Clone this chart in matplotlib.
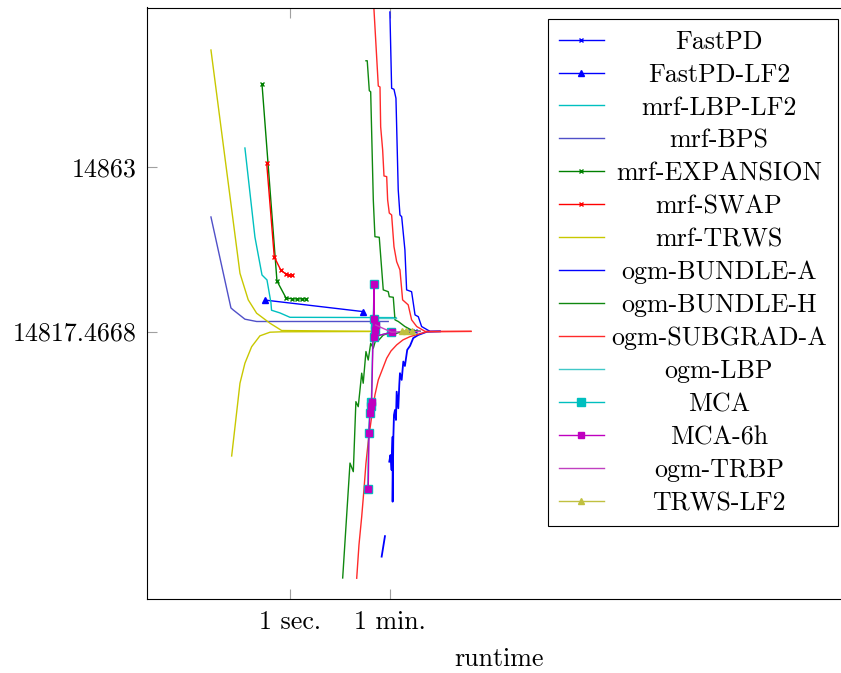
import numpy as np
import matplotlib
matplotlib.use("Agg")
import matplotlib.pyplot as plt
import matplotlib.transforms as mtransforms

plt.rcParams['font.family'] = ['cmr10', 'DejaVu Serif']
plt.rcParams['axes.formatter.use_mathtext'] = True

E_OPT = 14817.4668
nan = np.nan

# runtimes in seconds, energies (upper bounds) and bounds (lower bounds)
fastpd_t = [137, 168]
fastpd_e = [14817.47, 14817.47]

fastpd_lf2_t = [0.359, 19.7]
fastpd_lf2_e = [14818.55, 14818.06]

mrf_lbp_lf2_t = [0.158, 0.238, 0.318, 0.390, 0.459, 0.470, 0.664, 1.0, 76.9]
mrf_lbp_lf2_e = [14889.07, 14825.55, 14820.21, 14819.80, 14818.42, 14818.11, 14818.01, 14817.86, 14817.85]

mrf_bps_t = [0.0393, 0.0891, 0.098, 0.158, 0.255, 56.0]
mrf_bps_e = [14830.97, 14818.20, 14818.12, 14817.80, 14817.73, 14817.73]

mrf_exp_t = [0.318, 0.587, 0.849, 1.085, 1.332, 1.635, 1.927]
mrf_exp_e = [15140.47, 14819.72, 14818.66, 14818.61, 14818.61, 14818.61, 14818.61]

mrf_swap_t = [0.385, 0.526, 0.684, 0.839, 0.960, 1.099]
mrf_swap_e = [14867.67, 14822.17, 14820.68, 14820.30, 14820.21, 14820.21]

mrf_trws_t = [0.0393, 0.129, 0.181, 0.255, 0.441, 0.712, 30.0]
mrf_trws_e = [15532.47, 14820.36, 14818.56, 14818.00, 14817.68, 14817.49, 14817.47]
mrf_trws_lb_t = [0.0918, 0.129, 0.158, 0.208, 0.292, 0.441, 0.712, 30.0]
mrf_trws_lb = [14800.17, 14815.12, 14816.37, 14817.04, 14817.36, 14817.45, 14817.46, 14817.4668]

bundle_a_t = [60.0, 64.4, 70.9, 76.9, 84.4, 90.6, 97.2, 111, 119, 146, 168, 192, 220, 310, 467]
bundle_a_e = [16555.47, 15109.47, 15102.47, 15048.47, 14843.77, 14831.67, 14831.07, 14823.18,
              14819.11, 14819.00, 14817.94, 14817.88, 14817.59, 14817.47, 14817.47]
bundle_a_lb_t = [42.8, 49.0, nan, 58.5, 61.4, 64.4, 67.1, 67.1, 68.9, 70.9, 73.9, 76.9, 79.2,
                 84.6, 88.1, 90.6, 97.2, 104, 111, 122, 137, 156, 190, 271, 467]
bundle_a_lb = [14626.47, 14699.47, nan, 14797.57, 14800.57, 14793.07, 14806.77, 14765.27, 14805.87,
               14811.44, 14812.22, 14810.58, 14814.39, 14812.46, 14814.98, 14815.82, 14815.37,
               14816.45, 14816.23, 14816.93, 14817.07, 14817.30, 14817.38, 14817.46, 14817.47]

bundle_h_t = [22.5, 23.7, 25.8, 27.3, 30.4, 32.5, 38.8, 45.7, 56.1, 58.5, 68.9, 73.9, 84.6, 111, 146, 206]
bundle_h_e = [15373.47, 15373.47, 15093.47, 15086.47, 14838.07, 14825.62, 14825.49, 14819.11,
              14819.00, 14818.72, 14818.69, 14817.78, 14817.73, 14817.59, 14817.50, 14817.47]
bundle_h_lb_t = [8.67, 11.7, 13.4, 14.9, 16.4, 18.9, 20.1, 22.5, 24.7, 27.3, 30.4, 34.9, 38.3,
                 45.7, 56.1, 73.9, 90.6, 206]
bundle_h_lb = [14502.47, 14796.87, 14792.07, 14813.32, 14812.68, 14815.82, 14815.12, 14816.87,
               14816.52, 14817.15, 14816.99, 14817.34, 14817.25, 14817.38, 14817.42, 14817.41,
               14817.45, 14817.47]

subgrad_t = [31.2, 37.3, 40.0, 41.1, 44.6, 47.1, 52.6, 54.7, 58.5, 64.4, 70.9, 79.2, 90.6, 101,
             127, 146, 180, 253, 1663]
subgrad_e = [16682.47, 15125.47, 15118.47, 14935.47, 14885.77, 14854.27, 14853.67, 14838.07,
             14832.37, 14831.67, 14823.72, 14821.57, 14820.68, 14818.56, 14818.33, 14817.78,
             14817.59, 14817.47, 14817.47]
subgrad_lb_t = [15.4, 16.9, 18.9, 20.7, 22.5, 24.9, 28.4, 32.5, 37.3, 52.6, 62.7, 79.2, 102.5,
                137, 271, 1663]
subgrad_lb = [14500.47, 14672.47, 14742.97, 14777.97, 14796.77, 14805.87, 14811.16, 14814.07,
              14815.37, 14816.60, 14816.89, 14817.10, 14817.25, 14817.34, 14817.46, 14817.47]

ogm_lbp_t = [28.8, 76.9]
ogm_lbp_e = [14817.85, 14817.85]

mca_t = [24.3, 25.1, 26.2, 27.3, 28.1, 31.4, 31.4, 33.2, 32.2, 31.4, 64.0]
mca_e = [14778.67, 14807.85, 14811.71, 14812.77, 14813.32, 14819.48, 14817.80, 14817.63,
         14817.50, 14817.34, 14817.45]

mca6h_t = [24.7, 25.5, 26.5, 27.6, 28.4, 31.6, 31.6, 33.5, 32.5, 31.6, 64.4]
mca6h_e = [14778.67, 14807.85, 14811.71, 14812.77, 14813.32, 14819.48, 14817.80, 14817.63,
           14817.50, 14817.34, 14817.45]

trbp_t = [33.5, 64.4, 90.6, 206]
trbp_e = [14817.63, 14817.45, 14817.46, 14817.47]

trws_lf2_t = [97.2, 115, 150]
trws_lf2_e = [14817.48, 14817.49, 14817.47]


def fwd(e):
    d = np.asarray(e, dtype=float) - E_OPT
    return np.sign(d) * np.log10(1 + np.abs(d))


def inv(u):
    u = np.asarray(u, dtype=float)
    return E_OPT + np.sign(u) * (10 ** np.abs(u) - 1)


fig = plt.figure(figsize=(8.41, 6.73), dpi=100)
ax = fig.add_axes([147 / 841, 74 / 673, 704 / 841, 591.5 / 673])
ax.set_xscale('log')
ax.set_yscale('function', functions=(fwd, inv))

lw = 1.0
ax.plot(fastpd_t, fastpd_e, color='#0000ff', lw=lw, marker='x', ms=3.5, mew=1, label='FastPD')
ax.plot(fastpd_lf2_t, fastpd_lf2_e, color='#0000ff', lw=lw, marker='^', ms=5, label='FastPD-LF2')
ax.plot(mrf_lbp_lf2_t, mrf_lbp_lf2_e, color='#00c0c0', lw=lw, label='mrf-LBP-LF2')
ax.plot(mrf_bps_t, mrf_bps_e, color='#5050c8', lw=lw, label='mrf-BPS')
ax.plot(mrf_exp_t, mrf_exp_e, color='#008000', lw=lw, marker='x', ms=3.5, mew=1, label='mrf-EXPANSION')
ax.plot(mrf_swap_t, mrf_swap_e, color='#ff0000', lw=lw, marker='x', ms=3.5, mew=1, label='mrf-SWAP')
ax.plot(mrf_trws_t, mrf_trws_e, color='#c8c800', lw=lw, label='mrf-TRWS')
ax.plot(mrf_trws_lb_t, mrf_trws_lb, color='#c8c800', lw=lw)
ax.plot(bundle_a_t, bundle_a_e, color='#0000ff', lw=lw, label='ogm-BUNDLE-A')
ax.plot(bundle_a_lb_t, bundle_a_lb, color='#0000ff', lw=1.3)
ax.plot(bundle_h_t, bundle_h_e, color='#108810', lw=lw, label='ogm-BUNDLE-H')
ax.plot(bundle_h_lb_t, bundle_h_lb, color='#108810', lw=lw)
ax.plot(subgrad_t, subgrad_e, color='#ff2a2a', lw=lw, label='ogm-SUBGRAD-A')
ax.plot(subgrad_lb_t, subgrad_lb, color='#ff2a2a', lw=lw)
ax.plot(ogm_lbp_t, ogm_lbp_e, color='#40c8c8', lw=lw, label='ogm-LBP')
ax.plot(mca_t, mca_e, color='#00bfbf', lw=lw, marker='s', ms=6, label='MCA')
ax.plot(mca6h_t, mca6h_e, color='#bf00bf', lw=lw, marker='s', ms=5, label='MCA-6h')
ax.plot(trbp_t, trbp_e, color='#c040c0', lw=lw, label='ogm-TRBP')
ax.plot(trws_lf2_t, trws_lf2_e, color='#c0c040', lw=lw, marker='^', ms=5, label='TRWS-LF2')

ax.set_xlim(2.86e-3, 9.6e9)
ax.set_ylim(14302.07, 16748.5)

ax.set_xticks([1, 60])
ax.set_xticklabels(['1 sec.', '1 min.'])
ax.set_yticks([14863, E_OPT])
ax.set_yticklabels(['14863', '14817.4668'])
ax.xaxis.set_minor_locator(matplotlib.ticker.NullLocator())
ax.yaxis.set_minor_locator(matplotlib.ticker.NullLocator())
ax.tick_params(direction='in', length=7, width=0.8, color='#a0a0a0', top=True, right=True,
               labelsize=18.7)
ax.tick_params(axis='y', pad=7.2)
ax.tick_params(axis='x', pad=8)
for sp in ax.spines.values():
    sp.set_linewidth(0.8)
ax.set_xlabel('runtime', fontsize=18.7, labelpad=10)

leg = ax.legend(loc='upper right', bbox_to_anchor=(837.7 / 841, 1 - 19 / 673),
                bbox_transform=fig.transFigure, borderaxespad=0, fontsize=18.7,
                handlelength=1.73, handletextpad=0.28, borderpad=0.42, labelspacing=0.355,
                fancybox=False, framealpha=1, edgecolor='black')
leg.get_frame().set_linewidth(0.8)

# center the legend entries within the text column
fig.canvas.draw()
renderer = fig.canvas.get_renderer()
widths = [t.get_window_extent(renderer).width for t in leg.get_texts()]
wmax = max(widths)
for t, w in zip(leg.get_texts(), widths):
    t.set_transform(t.get_transform() + mtransforms.Affine2D().translate((wmax - w) / 2, 0))

fig.savefig('out.png', dpi=100)
